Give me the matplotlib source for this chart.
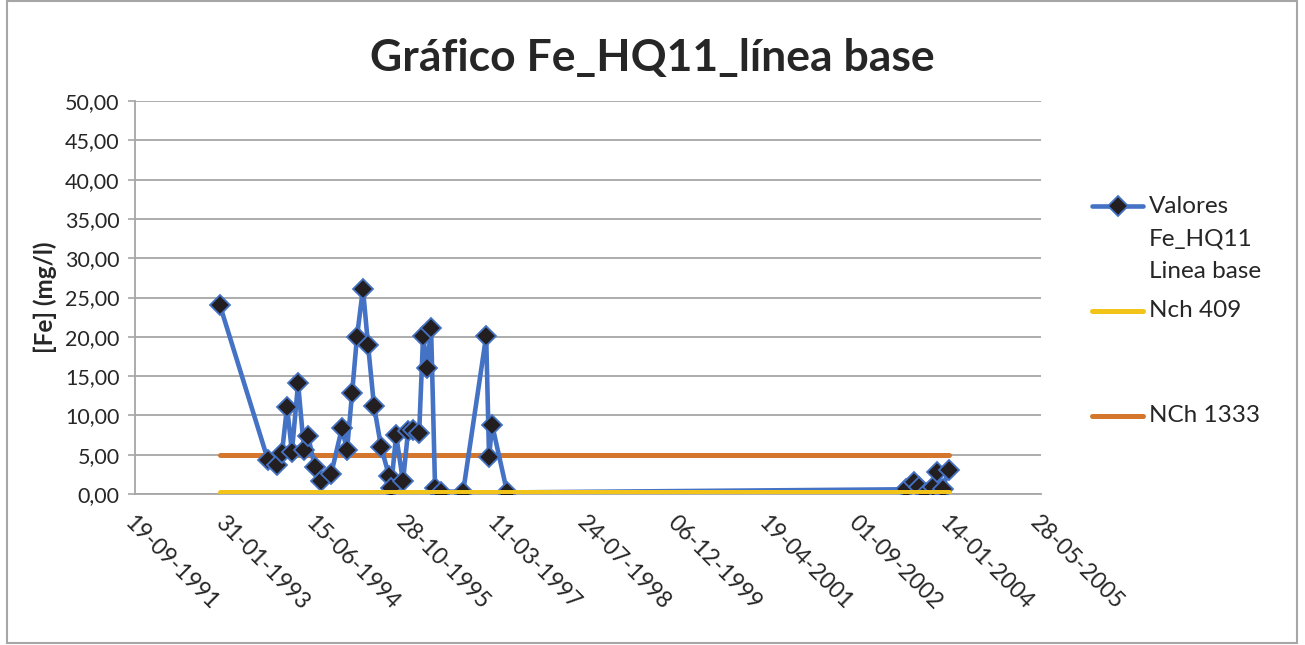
import datetime as dt
import matplotlib
matplotlib.use("Agg")
import matplotlib.pyplot as plt
from matplotlib.lines import Line2D
from matplotlib.patches import Rectangle
from matplotlib.ticker import FuncFormatter

plt.rcParams['font.family'] = ['Lato', 'DejaVu Sans']

# muestreos Fe_HQ11
fechas = ["1992-12-31", "1993-09-22", "1993-11-11", "1993-12-08", "1994-01-05",
          "1994-02-01", "1994-03-07", "1994-04-09", "1994-05-01", "1994-06-08",
          "1994-07-12", "1994-09-05", "1994-11-04", "1994-12-02", "1994-12-30",
          "1995-01-26", "1995-02-28", "1995-03-28", "1995-04-30", "1995-06-08",
          "1995-07-22", "1995-08-02", "1995-08-30", "1995-10-07", "1995-11-04",
          "1995-12-01", "1996-01-04", "1996-01-26", "1996-02-17", "1996-03-10",
          "1996-04-01", "1996-05-04", "1996-09-03", "1997-01-08", "1997-01-24",
          "1997-02-10", "1997-05-04", "2003-05-12", "2003-06-25", "2003-07-23",
          "2003-08-30", "2003-10-08", "2003-10-30", "2003-12-02", "2004-01-04"]
fe = [24.0, 4.3, 3.7, 5.2, 11.1,
      5.4, 14.1, 5.6, 7.4, 3.4,
      1.7, 2.5, 8.4, 5.6, 12.8,
      20.0, 26.1, 19.0, 11.2, 6.0,
      2.3, 0.8, 7.5, 1.6, 8.0,
      8.1, 7.7, 20.1, 16.0, 21.1,
      0.8, 0.3, 0.3, 20.1, 4.7,
      8.8, 0.2, 0.6, 1.5, 0.9,
      0.1, 0.9, 2.8, 0.6, 3.1]

nch409 = 0.3
nch1333 = 5.0

ticks_x = ["19-09-1991", "31-01-1993", "15-06-1994", "28-10-1995", "11-03-1997",
           "24-07-1998", "06-12-1999", "19-04-2001", "01-09-2002", "14-01-2004",
           "28-05-2005"]
ticks_y = [0, 5, 10, 15, 20, 25, 30, 35, 40, 45, 50]

azul = '#4472C4'
amarillo = '#F2C318'
naranjo = '#D4772C'
gris = '#A6A6A6'
texto = '#262626'

x = [dt.datetime.strptime(f, "%Y-%m-%d") for f in fechas]
tx = [dt.datetime.strptime(t, "%d-%m-%Y") for t in ticks_x]

W, H = 1305, 645
fig = plt.figure(figsize=(W / 100, H / 100), dpi=100)
ax = fig.add_axes([135 / W, 1 - 494 / H, (1041 - 135) / W, (494 - 101) / H])

ax.plot([x[0], x[-1]], [nch1333, nch1333], color=naranjo, lw=3.6,
        solid_capstyle='round', zorder=3)
ax.plot(x, fe, color=azul, lw=3.3, marker='D', ms=10, mfc='#231F20',
        mec=azul, mew=1.3, zorder=4)
ax.plot([x[0], x[-1]], [nch409, nch409], color=amarillo, lw=3.6,
        solid_capstyle='round', zorder=5)

ax.set_xlim(tx[0], tx[-1])
ax.set_ylim(0, 50)
ax.set_xticks(tx)
ax.set_xticklabels(ticks_x, rotation=-45, ha='left', va='top',
                   rotation_mode='anchor', fontsize=16.5, color=texto)
ax.set_yticks(ticks_y)
ax.yaxis.set_major_formatter(FuncFormatter(lambda v, p: f"{v:.2f}".replace('.', ',')))
ax.tick_params(axis='y', labelsize=15.5, labelcolor=texto, length=5,
               color=gris, width=1.2, pad=6)
ax.tick_params(axis='x', length=0, pad=13)
ax.grid(axis='y', color=gris, lw=1.3)
ax.set_axisbelow(True)
for s in ['top', 'right']:
    ax.spines[s].set_visible(False)
for s in ['left', 'bottom']:
    ax.spines[s].set_color(gris)
    ax.spines[s].set_linewidth(1.3)

ax.set_ylabel("[Fe] (mg/l)", fontsize=17.5, fontweight='bold', color=texto,
              labelpad=6)
fig.suptitle("Gráfico Fe_HQ11_línea base", x=0.5, y=1 - 58 / H, va='center',
             fontsize=32, fontweight='bold', color=texto)

# leyenda (a mano, como en Excel)
def fx(px):
    return px / W

def fy(py):
    return 1 - py / H

fig.add_artist(Line2D([fx(1092), fx(1143)], [fy(206), fy(206)], color=azul,
                      lw=3.3, solid_capstyle='round'))
fig.add_artist(Line2D([fx(1118)], [fy(206)], color=azul, marker='D', ms=10,
                      mfc='#231F20', mec=azul, mew=1.3))
fig.add_artist(Line2D([fx(1092), fx(1143)], [fy(311), fy(311)], color=amarillo,
                      lw=3.6, solid_capstyle='round'))
fig.add_artist(Line2D([fx(1092), fx(1143)], [fy(416), fy(416)], color=naranjo,
                      lw=3.6, solid_capstyle='round'))
etiquetas = [("Valores", 206), ("Fe_HQ11", 239), ("Linea base", 271),
             ("Nch 409", 311), ("NCh 1333", 416)]
for txt, py in etiquetas:
    fig.text(fx(1149), fy(py), txt, fontsize=17.5, color=texto, va='center')

# borde del area del grafico
fig.add_artist(Rectangle((fx(7), fy(643)), fx(1297) - fx(7), fy(1) - fy(643),
                         fill=False, edgecolor=gris, lw=1.5))

fig.savefig("out.png", dpi=100)
